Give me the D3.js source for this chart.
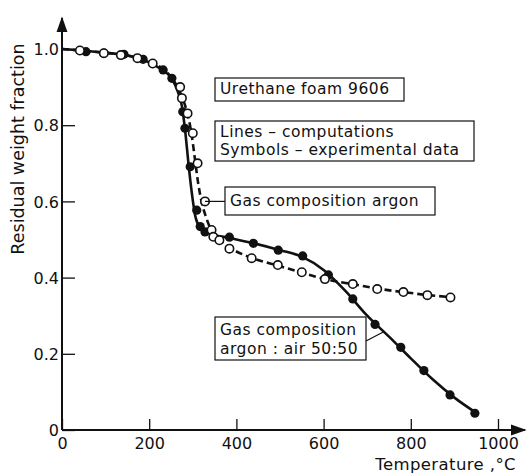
<!DOCTYPE html>
<html><head><meta charset="utf-8">
<script src="https://cdn.jsdelivr.net/npm/d3@7"></script>
<style>
body{margin:0;background:#fff;}
text{font-family:"DejaVu Sans",sans-serif;fill:#111;}
</style></head>
<body><svg id="c" width="528" height="476"></svg>
<script>
// Experimental data: argon (open circles)
const argonT = [41,96,135,173,208,271,275,288,300,311,328,343,347,361,384,435,495,550,603,667,723,783,838,891];
const argonV = [0.996,0.989,0.984,0.976,0.962,0.900,0.871,0.831,0.779,0.700,0.600,0.525,0.507,0.498,0.476,0.451,0.433,0.414,0.396,0.383,0.370,0.362,0.354,0.348];
// Experimental data: argon:air 50:50 (filled circles)
const airT = [55,96,142,186,232,252,277,282,294,309,317,328,384,439,496,552,611,667,718,777,830,890,947];
const airV = [0.993,0.989,0.986,0.973,0.945,0.923,0.835,0.792,0.691,0.577,0.534,0.520,0.506,0.490,0.472,0.457,0.407,0.344,0.277,0.217,0.156,0.092,0.044];
// Computed curves
const argonLineT = [0,100,150,200,240,265,280,290,298,305,312,320,330,342,360,390,440,500,550,600,670,730,790,840,890];
const argonLineV = [1.0,0.99,0.983,0.965,0.94,0.9,0.86,0.82,0.77,0.71,0.65,0.60,0.56,0.525,0.50,0.475,0.45,0.43,0.413,0.397,0.382,0.370,0.361,0.354,0.349];
const airLineT = [0,100,150,200,230,250,265,275,283,290,298,306,318,340,380,440,500,550,600,650,700,750,800,850,900,950];
const airLineV = [1.0,0.99,0.983,0.965,0.945,0.925,0.89,0.85,0.78,0.70,0.62,0.56,0.53,0.515,0.505,0.49,0.472,0.455,0.42,0.365,0.30,0.245,0.188,0.133,0.085,0.045];
const xTicks = [0,200,400,600,800,1000];
const yTicks = [0,0.2,0.4,0.6,0.8,1.0];
const yTickLabels = ["0","0.2","0.4","0.6","0.8","1.0"];

const svg = d3.select("#c");
const x = d3.scaleLinear().domain([0,1000]).range([62,498]);
const y = d3.scaleLinear().domain([0,1]).range([430,49]);

// axis lines with arrows
svg.append("defs").append("marker").attr("id","arr").attr("viewBox","0 0 10 10")
  .attr("refX",9).attr("refY",5).attr("markerWidth",8).attr("markerHeight",8)
  .attr("orient","auto").append("path").attr("d","M0,1.5L10,5L0,8.5Z").attr("fill","#111");
svg.append("line").attr("x1",62).attr("y1",430).attr("x2",62).attr("y2",18)
  .attr("stroke","#111").attr("stroke-width",2).attr("marker-end","url(#arr)");
svg.append("line").attr("x1",62).attr("y1",430).attr("x2",525).attr("y2",430)
  .attr("stroke","#111").attr("stroke-width",2).attr("marker-end","url(#arr)");

const gx = svg.append("g").attr("transform","translate(0,430)")
  .call(d3.axisBottom(x).tickValues(xTicks).tickSize(-11).tickSizeOuter(0).tickPadding(8).tickFormat(d3.format("d")));
const gy = svg.append("g").attr("transform","translate(62,0)")
  .call(d3.axisLeft(y).tickValues(yTicks).tickSize(-13).tickSizeOuter(0).tickPadding(3).tickFormat((d,i)=>yTickLabels[i]));
[gx,gy].forEach(g=>{g.select(".domain").remove();
  g.selectAll(".tick line").attr("stroke","#111").attr("stroke-width",1.3);
  g.selectAll(".tick text").style("font-size","16px").style("font-family","DejaVu Sans").attr("fill","#111");});
gy.selectAll(".tick text").attr("dy","0.36em");

// lines
const line = d3.line().x(d=>x(d[0])).y(d=>y(d[1])).curve(d3.curveMonotoneX);
svg.append("path").datum(d3.zip(airLineT,airLineV)).attr("d",line)
  .attr("fill","none").attr("stroke","#111").attr("stroke-width",2.6);
svg.append("path").datum(d3.zip(argonLineT,argonLineV)).attr("d",line)
  .attr("fill","none").attr("stroke","#111").attr("stroke-width",2.6).attr("stroke-dasharray","7,4");

// symbols
svg.append("g").selectAll("circle").data(d3.zip(airT,airV)).join("circle")
  .attr("cx",d=>x(d[0])).attr("cy",d=>y(d[1])).attr("r",4.6).attr("fill","#111");
svg.append("g").selectAll("circle").data(d3.zip(argonT,argonV)).join("circle")
  .attr("cx",d=>x(d[0])).attr("cy",d=>y(d[1])).attr("r",4.2).attr("fill","#fff").attr("stroke","#111").attr("stroke-width",1.6);

// annotation boxes
function box(x0,y0,w,h,lines,bases){
  svg.append("rect").attr("x",x0).attr("y",y0).attr("width",w).attr("height",h)
    .attr("fill","#fff").attr("stroke","#111").attr("stroke-width",1.2);
  lines.forEach((t,i)=>svg.append("text").attr("x",x0+5).attr("y",bases[i])
    .style("font-size","15.5px").style("letter-spacing","0.5px").text(t));
}
box(215,78,189,23,["Urethane foam 9606"],[94]);
box(215,121,259,40,["Lines – computations","Symbols – experimental data"],[137,155]);
box(225,187,210,28,["Gas composition argon"],[206]);
box(215,317,151,43,["Gas composition","argon : air 50:50"],[335,354]);
// leaders
svg.append("line").attr("x1",x(328)).attr("y1",y(0.6)).attr("x2",225).attr("y2",y(0.6)).attr("stroke","#111").attr("stroke-width",1.2);
svg.append("line").attr("x1",366).attr("y1",341).attr("x2",x(738)).attr("y2",y(0.258)).attr("stroke","#111").attr("stroke-width",1.2);

// axis titles
svg.append("text").attr("transform","translate(24,149) rotate(-90)").attr("text-anchor","middle")
  .style("font-size","17.5px").text("Residual weight fraction");
svg.append("text").attr("x",516).attr("y",470).attr("text-anchor","end")
  .style("font-size","16.5px").style("letter-spacing","0.4px").text("Temperature ,°C");
</script></body></html>
